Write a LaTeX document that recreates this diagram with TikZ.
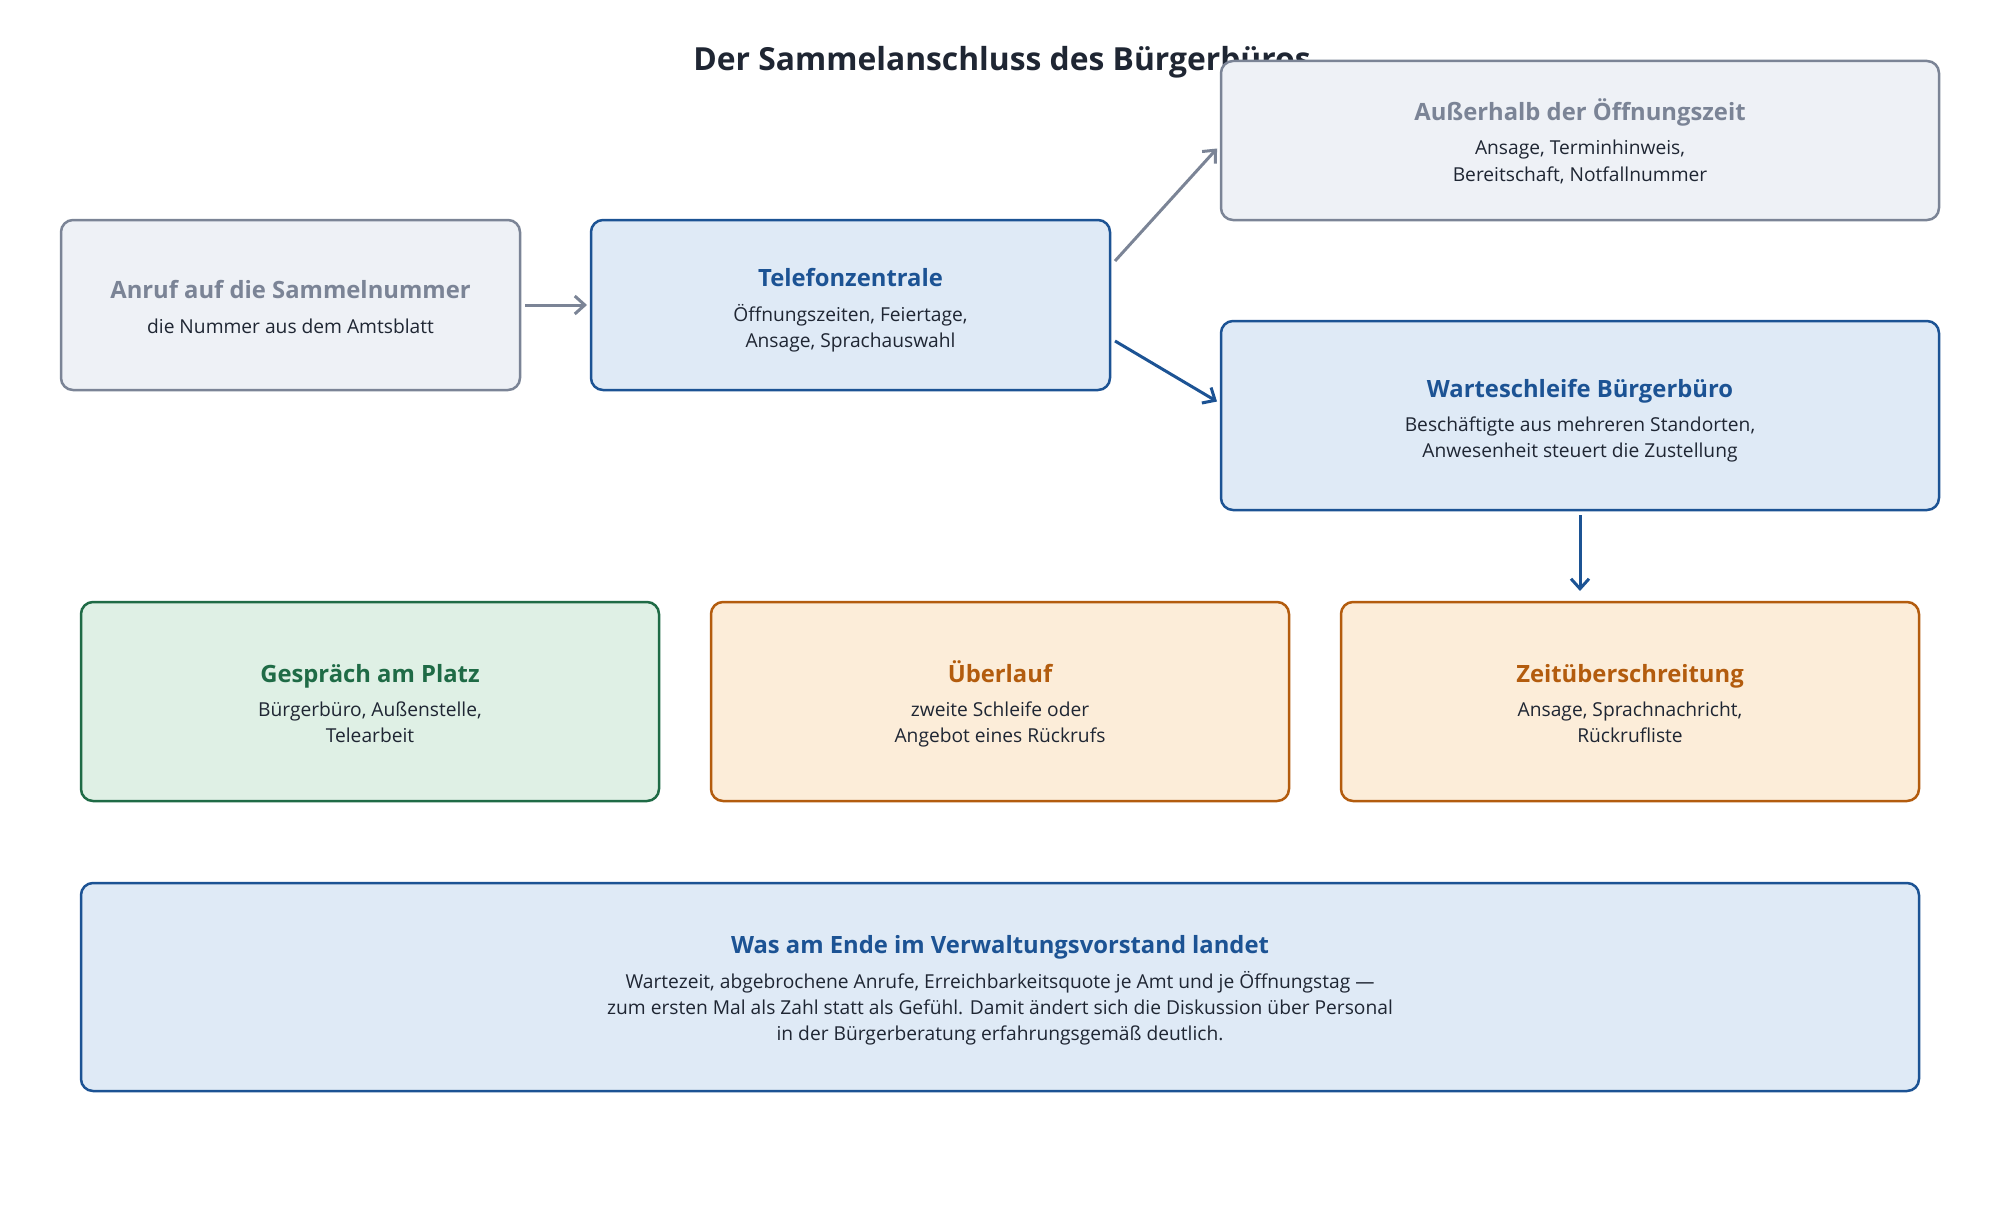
\documentclass[tikz,border=0pt]{standalone}
\usepackage{fontspec}
\setmainfont{Open Sans}
\usetikzlibrary{arrows.meta,calc}
\definecolor{ink}{HTML}{1F2633}
\definecolor{grayB}{HTML}{7B8496}
\definecolor{grayF}{HTML}{EEF1F6}
\definecolor{blueB}{HTML}{1C5394}
\definecolor{blueF}{HTML}{DFEAF6}
\definecolor{greenB}{HTML}{1F6B46}
\definecolor{greenF}{HTML}{DFF0E5}
\definecolor{orangeB}{HTML}{B35C0E}
\definecolor{orangeF}{HTML}{FCEDD9}
\tikzset{
  box/.style={draw, rectangle, rounded corners=12pt, line width=2.5pt, inner sep=0pt, outer sep=0pt},
  graybox/.style={box, draw=grayB, fill=grayF},
  bluebox/.style={box, draw=blueB, fill=blueF},
  greenbox/.style={box, draw=greenB, fill=greenF},
  orangebox/.style={box, draw=orangeB, fill=orangeF},
  ttl/.style={anchor=base, inner sep=0pt, font=\fontsize{23.8}{28}\selectfont\bfseries},
  txt/.style={anchor=base, inner sep=0pt, text=ink, font=\fontsize{19.2}{22}\selectfont},
  arr/.style={line width=3pt, -{Straight Barb[length=10pt,width=18pt,line width=3pt]}},
}
\begin{document}
\begin{tikzpicture}[x=1pt,y=-1pt]
\useasboundingbox (0,0) rectangle (2000,1220);
% title
\node[anchor=base, inner sep=0pt, text=ink, font=\fontsize{31.8}{36}\selectfont\bfseries] (title) at (1002,71) {Der Sammelanschluss des Bürgerbüros};

% boxes row 1
\node[graybox, minimum width=459pt, minimum height=170pt] (anruf) at (290.5,305) {};
\node[bluebox, minimum width=519pt, minimum height=170pt] (tz) at (850.5,305) {};
\node[graybox, minimum width=718pt, minimum height=159pt] (aus) at (1580,140.5) {};
\node[bluebox, minimum width=718pt, minimum height=189pt] (warte) at (1580,415.5) {};
% row 2
\node[greenbox, minimum width=578pt, minimum height=199pt] (gespr) at (370,701.5) {};
\node[orangebox, minimum width=578pt, minimum height=199pt] (ueber) at (1000,701.5) {};
\node[orangebox, minimum width=578pt, minimum height=199pt] (zeit) at (1630,701.5) {};
% final
\node[bluebox, minimum width=1838pt, minimum height=208pt] (final) at (1000,987) {};

% texts
\node[ttl, text=grayB] (anrufT) at (290.5,298) {Anruf auf die Sammelnummer};
\node[txt] (anrufL1) at (290.5,333) {die Nummer aus dem Amtsblatt};

\node[ttl, text=blueB] (tzT) at (850.5,286) {Telefonzentrale};
\node[txt] (tzL1) at (850.5,321) {Öffnungszeiten, Feiertage,};
\node[txt] (tzL2) at (850.5,347) {Ansage, Sprachauswahl};

\node[ttl, text=grayB] (ausT) at (1580,121) {Außerhalb der Öffnungszeit};
\node[txt] (ausL1) at (1580,155) {Ansage, Terminhinweis,};
\node[txt] (ausL2) at (1580,181) {Bereitschaft, Notfallnummer};

\node[ttl, text=blueB] (warteT) at (1580,397) {Warteschleife Bürgerbüro};
\node[txt] (warteL1) at (1580,431) {Beschäftigte aus mehreren Standorten,};
\node[txt] (warteL2) at (1580,457) {Anwesenheit steuert die Zustellung};

\node[ttl, text=greenB] (gesprT) at (370,682) {Gespräch am Platz};
\node[txt] (gesprL1) at (370,716) {Bürgerbüro, Außenstelle,};
\node[txt] (gesprL2) at (370,742) {Telearbeit};

\node[ttl, text=orangeB] (ueberT) at (1000,682) {Überlauf};
\node[txt] (ueberL1) at (1000,716) {zweite Schleife oder};
\node[txt] (ueberL2) at (1000,742) {Angebot eines Rückrufs};

\node[ttl, text=orangeB] (zeitT) at (1630,682) {Zeitüberschreitung};
\node[txt] (zeitL1) at (1630,716) {Ansage, Sprachnachricht,};
\node[txt] (zeitL2) at (1630,742) {Rückrufliste};

\node[ttl, text=blueB] (finalT) at (1000,953) {Was am Ende im Verwaltungsvorstand landet};
\node[txt] (finalL1) at (1000,988) {Wartezeit, abgebrochene Anrufe, Erreichbarkeitsquote je Amt und je Öffnungstag —};
\node[txt] (finalL2) at (1000,1014) {zum ersten Mal als Zahl statt als Gefühl. Damit ändert sich die Diskussion über Personal};
\node[txt] (finalL3) at (1000,1040) {in der Bürgerberatung erfahrungsgemäß deutlich.};

% connector end points
\coordinate (a1) at ($(anruf.east)+(5,0)$);
\coordinate (a2) at ($(tz.west)+(-4,0)$);
\coordinate (b1) at ($(tz.east)+(5,-44)$);
\coordinate (b2) at ($(aus.west)+(-4,8)$);
\coordinate (c1) at ($(tz.east)+(5,36)$);
\coordinate (c2) at ($(warte.west)+(-4,-14)$);
\coordinate (d1) at ($(warte.south)+(0,5)$);
\coordinate (d2) at ($(warte.south)+(0,81)$);

\draw[arr, grayB] (a1) -- (a2);
\draw[arr, grayB] (b1) -- (b2);
\draw[arr, blueB] (c1) -- (c2);
\draw[arr, blueB] (d1) -- (d2);
\end{tikzpicture}
\end{document}
